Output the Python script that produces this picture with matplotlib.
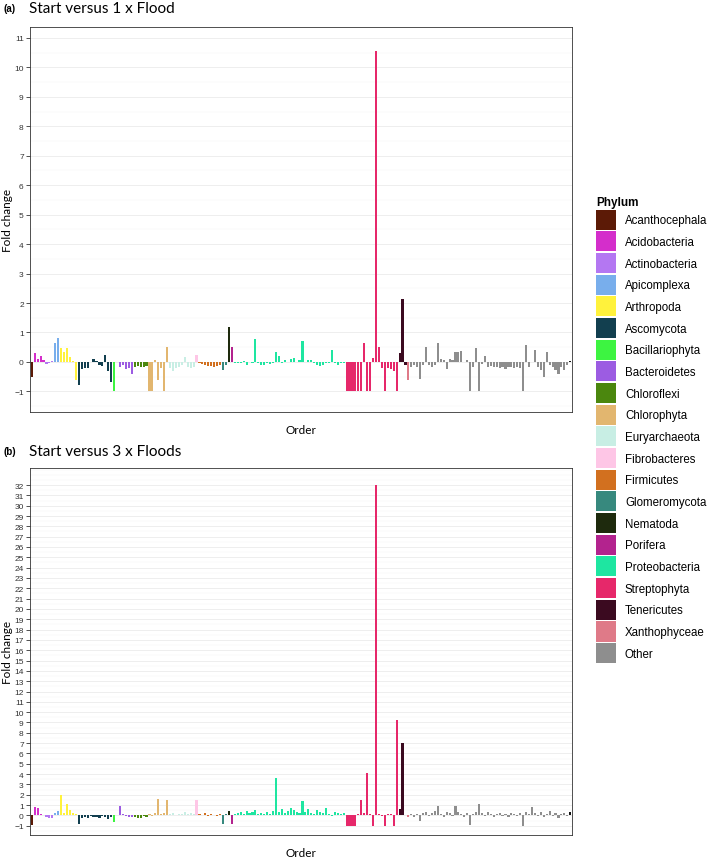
import matplotlib
matplotlib.use("Agg")
import matplotlib.pyplot as plt
from matplotlib.ticker import MultipleLocator, NullLocator
from matplotlib.patches import Patch
import numpy as np

# ---------------- data ----------------
phyla = ["Acanthocephala", "Acidobacteria", "Actinobacteria", "Apicomplexa",
         "Arthropoda", "Ascomycota", "Bacillariophyta", "Bacteroidetes",
         "Chloroflexi", "Chlorophyta", "Euryarchaeota", "Fibrobacteres",
         "Firmicutes", "Glomeromycota", "Nematoda", "Porifera",
         "Proteobacteria", "Streptophyta", "Tenericutes", "Xanthophyceae",
         "Other"]
phylum_colors = ["#5C1A06", "#D42ECB", "#B477F2", "#78AEEC", "#FFF23C",
                 "#123F4F", "#3DF441", "#9C5CE2", "#4B870E", "#E2B66F",
                 "#C8EEE4", "#FEC6E6", "#D2701F", "#37897E", "#1E2A0D",
                 "#B3238E", "#1EE6A1", "#E6286A", "#3B0A20", "#DF7A88",
                 "#8E8E8E"]
unassigned_color = "#111111"

# Start versus 1 x Flood (fold change per order)
a_acanthocephala = [-0.52]
a_acidobacteria = [0.29, 0.10, 0.20, 0.08]
a_actinobacteria = [-0.08, -0.04, 0.02]
a_apicomplexa = [0.63, 0.80]
a_arthropoda = [0.46, 0.35, 0.46, 0.17, 0.04, -0.61]
a_ascomycota = [-0.78, -0.23, -0.22, -0.20, 0.0, 0.11, 0.02, -0.10, -0.15, 0.25, -0.30, -0.69]
a_bacillariophyta = [-1.0]
a_bacteroidetes = [0.0, -0.17, -0.12, -0.23, -0.20, -0.40]
a_chloroflexi = [-0.17, -0.15, -0.17, -0.18, -0.15]
a_chlorophyta = [-1.0, -1.0, 0.06, -0.63, -0.22, -1.0, 0.52]
a_euryarchaeota = [-0.20, -0.30, -0.22, -0.17, -0.10, 0.17, -0.17, -0.22, -0.17]
a_fibrobacteres = [0.23]
a_firmicutes = [-0.05, -0.08, -0.10, -0.15, -0.15, -0.18, -0.15, -0.10]
a_glomeromycota = [-0.29, -0.10]
a_nematoda = [1.20]
a_porifera = [0.50]
a_proteobacteria = [-0.05, -0.03, -0.05, 0.02, -0.10, 0.0, -0.05, 0.77, -0.03, -0.10,
                    -0.10, -0.03, -0.08, -0.05, 0.32, 0.20, -0.05, 0.06, 0.0, 0.11,
                    0.15, 0.0, 0.06, 0.70, 0.0, 0.06, 0.08, -0.02, -0.10, -0.15,
                    -0.10, -0.05, -0.02, 0.40, -0.05, -0.10, -0.05, -0.02]
a_streptophyta = [-1.0, -1.0, -1.0, -1.0, -1.0, -1.0, 0.63, -1.0, -1.0, 0.15,
                  10.55, 0.50, -0.20, -1.0, -0.20, -0.25, -0.30, -1.0]
a_tenericutes = [0.29, 2.13, -0.10]
a_xanthophyceae = [-0.63]
a_other = [-0.17, -0.12, -0.17, -0.57, -0.12, 0.52, -0.09, -0.17, -0.12, 0.63,
           0.10, 0.06, -0.23, 0.11, 0.06, 0.34, 0.34, 0.38, 0.0, 0.06,
           -1.0, -0.17, 0.46, -1.0, -0.06, 0.20, -0.17, -0.15, -0.17, -0.17,
           -0.20, -0.17, -0.23, -0.17, -0.17, -0.20, -0.17, -0.20, -1.0, 0.57,
           -0.17, 0.0, 0.40, -0.17, -0.29, -0.52, 0.34, -0.12, -0.17, -0.29,
           -0.40, -0.17, -0.29, -0.12]
a_unassigned = [0.04]

# Start versus 3 x Floods (fold change per order)
b_acanthocephala = [-0.90]
b_acidobacteria = [0.80, 0.70, 0.10, 0.05]
b_actinobacteria = [-0.20, -0.30, -0.25]
b_apicomplexa = [0.20, 0.40]
b_arthropoda = [1.95, 0.20, 1.10, 0.50, 0.20, 0.10]
b_ascomycota = [-0.85, -0.30, -0.20, -0.25, -0.10, -0.20, -0.15, -0.30, -0.10, -0.20, -0.35, -0.20]
b_bacillariophyta = [-0.60]
b_bacteroidetes = [0.0, 0.90, 0.10, -0.10, -0.20, -0.15]
b_chloroflexi = [-0.20, -0.30, -0.25, -0.10, -0.20]
b_chlorophyta = [0.10, -0.10, 0.20, 1.55, 0.10, 0.20, 1.45]
b_euryarchaeota = [0.10, 0.20, 0.05, 0.15, 0.10, 0.30, 0.10, 0.20, 0.10]
b_fibrobacteres = [1.50]
b_firmicutes = [0.10, 0.05, 0.20, -0.10, 0.10, 0.05, -0.10, 0.10]
b_glomeromycota = [-0.85, 0.10]
b_nematoda = [0.40]
b_porifera = [-0.80]
b_proteobacteria = [0.10, 0.20, 0.30, 0.15, 0.40, 0.20, 0.30, 0.50, 0.10, 0.20,
                    0.15, 0.30, 0.10, 0.40, 3.60, 0.30, 0.60, 0.20, 0.40, 0.70,
                    0.50, 0.30, 0.20, 1.40, 0.30, 0.60, 0.20, 0.10, 0.50, 0.30,
                    0.20, 0.70, 0.10, -0.10, 0.30, 0.20, 0.10, 0.20]
b_streptophyta = [-1.0, -1.0, -1.0, -1.0, 0.10, 1.45, 0.20, 4.06, 0.10, -1.0,
                  32.0, 0.10, -0.10, -1.0, 0.10, 0.10, -1.0, 9.20]
b_tenericutes = [0.60, 7.00, 0.05]
b_xanthophyceae = [-0.20]
b_other = [0.10, -0.20, 0.15, -0.50, 0.20, 0.30, -0.10, 0.20, 0.40, 0.90,
           0.10, -0.20, 0.30, 0.20, -0.10, 0.90, 0.30, 0.10, -0.20, 0.20,
           -0.90, 0.10, 0.30, 1.06, 0.20, -0.10, 0.30, 0.10, -0.20, 0.10,
           0.20, -0.10, 0.10, -0.20, 0.20, 0.10, -0.10, 0.20, -1.0, 0.30,
           0.10, 0.80, 0.20, -0.10, 0.30, -0.20, 0.10, 0.40, -0.10, 0.20,
           -0.30, 0.10, 0.20, -0.10]
b_unassigned = [0.30]

groups_a = [a_acanthocephala, a_acidobacteria, a_actinobacteria, a_apicomplexa,
            a_arthropoda, a_ascomycota, a_bacillariophyta, a_bacteroidetes,
            a_chloroflexi, a_chlorophyta, a_euryarchaeota, a_fibrobacteres,
            a_firmicutes, a_glomeromycota, a_nematoda, a_porifera,
            a_proteobacteria, a_streptophyta, a_tenericutes, a_xanthophyceae,
            a_other, a_unassigned]
groups_b = [b_acanthocephala, b_acidobacteria, b_actinobacteria, b_apicomplexa,
            b_arthropoda, b_ascomycota, b_bacillariophyta, b_bacteroidetes,
            b_chloroflexi, b_chlorophyta, b_euryarchaeota, b_fibrobacteres,
            b_firmicutes, b_glomeromycota, b_nematoda, b_porifera,
            b_proteobacteria, b_streptophyta, b_tenericutes, b_xanthophyceae,
            b_other, b_unassigned]
group_colors = phylum_colors + [unassigned_color]

# ---------------- figure ----------------
W, H = 709, 862
fig = plt.figure(figsize=(W / 100, H / 100), dpi=100)
fig.patch.set_facecolor("white")

label_font = ["Lato", "DejaVu Sans"]
tick_font = ["Liberation Sans", "DejaVu Sans"]


def fx(px):
    return px / W


def fy(py):
    return 1 - py / H


def draw_panel(ax, groups, ylims, top_tick):
    vals, cols = [], []
    for g, c in zip(groups, group_colors):
        vals.extend(g)
        cols.extend([c] * len(g))
    x = np.arange(len(vals))
    ax.bar(x, vals, width=0.72, color=cols, linewidth=0, zorder=3)
    ax.set_xlim(-0.6, len(vals) - 1 + 0.6)
    ax.set_ylim(*ylims)
    ax.set_yticks(np.arange(-1, top_tick + 1))
    ax.yaxis.set_minor_locator(MultipleLocator(0.5))
    ax.xaxis.set_major_locator(NullLocator())
    ax.grid(axis="y", which="major", color="#ebebeb", linewidth=0.6, zorder=0)
    ax.grid(axis="y", which="minor", color="#f5f5f5", linewidth=0.35, zorder=0)
    ax.tick_params(axis="y", which="major", length=3, width=0.6, color="#333333",
                   labelsize=6, labelcolor="#333333", pad=1.5)
    ax.tick_params(axis="y", which="minor", length=0)
    for lab in ax.get_yticklabels():
        lab.set_family(tick_font)
    for s in ax.spines.values():
        s.set_color("#333333")
        s.set_linewidth(0.6)
    ax.set_ylabel("Fold change", fontsize=8.5, family=label_font)
    ax.yaxis.set_label_coords(-0.032, 0.5)
    ax.set_xlabel("Order", fontsize=8.5, family=label_font, labelpad=9)


ax_a = fig.add_axes([fx(30), fy(413), fx(542), 385 / H])
draw_panel(ax_a, groups_a, (-1.7, 11.37), 11)
ax_b = fig.add_axes([fx(30), fy(836), fx(542), 367 / H])
draw_panel(ax_b, groups_b, (-1.9, 33.65), 32)

# titles
fig.text(fx(3), fy(9), "(a)", fontsize=7, fontweight="bold", family=tick_font,
         va="center", ha="left")
fig.text(fx(29), fy(9), "Start versus 1 x Flood", fontsize=11, family=label_font,
         va="center", ha="left")
fig.text(fx(3), fy(452), "(b)", fontsize=7, fontweight="bold", family=tick_font,
         va="center", ha="left")
fig.text(fx(29), fy(452), "Start versus 3 x Floods", fontsize=11, family=label_font,
         va="center", ha="left")

# legend
handles = [Patch(facecolor=c, edgecolor="none") for c in phylum_colors]
leg = fig.legend(handles, phyla, loc="upper left",
                 bbox_to_anchor=(fx(588), fy(189)), frameon=False,
                 title="Phylum", alignment="left",
                 prop={"family": tick_font, "size": 8.3},
                 title_fontproperties={"family": tick_font, "size": 8.5, "weight": "bold"},
                 handlelength=1.75, handleheight=2.3, labelspacing=0.14,
                 handletextpad=0.75, borderpad=0.2)

fig.savefig("out.png", dpi=100, facecolor="white")
